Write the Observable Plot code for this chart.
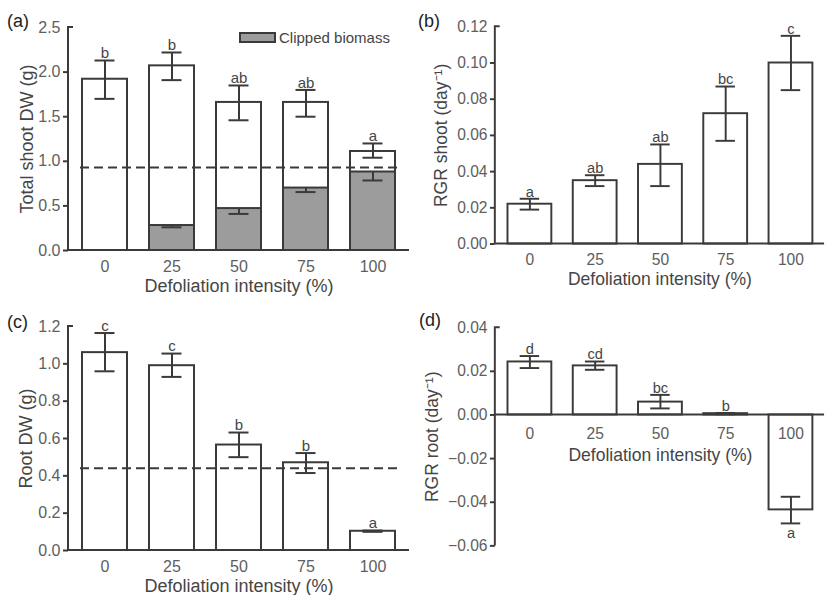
<!DOCTYPE html>
<html><head><meta charset="utf-8">
<script src="https://cdn.jsdelivr.net/npm/d3@7"></script>
<script src="https://cdn.jsdelivr.net/npm/@observablehq/plot@0.6"></script>
<style>
html,body{margin:0;padding:0;background:#fff}
body{width:827px;height:595px;overflow:hidden;position:relative;font-family:"Liberation Sans",Arial,Helvetica,sans-serif}
.panel{position:absolute}
.tag{position:absolute;font-size:18px;line-height:1;color:#222}
.legend{position:absolute;left:239px;top:29px;display:flex;align-items:center;font-size:15px;color:#444}
.legend .sw{width:33px;height:7px;border:2px solid #3a3a3a;background:#9c9c9c;margin-right:3px}
</style></head><body>
<div id="pa" class="panel" style="left:0;top:0"></div>
<div id="pb" class="panel" style="left:413px;top:0"></div>
<div id="pc" class="panel" style="left:0;top:297px"></div>
<div id="pd" class="panel" style="left:413px;top:297px"></div>
<div class="tag" style="left:7px;top:12px">(a)</div>
<div class="tag" style="left:418px;top:12px">(b)</div>
<div class="tag" style="left:7px;top:313px">(c)</div>
<div class="tag" style="left:419px;top:311px">(d)</div>
<div class="legend"><span class="sw"></span><span id="legtxt"></span></div>
<script>
// ---- data ----
const intensity = ["0", "25", "50", "75", "100"];
const xTitle = "Defoliation intensity (%)";

// (a) total shoot dry weight
const totalShoot   = [1.92, 2.07, 1.66, 1.66, 1.11];
const totalShootLo = [1.70, 1.91, 1.46, 1.50, 1.04];
const totalShootHi = [2.13, 2.22, 1.85, 1.80, 1.20];
const clipped      = [0, 0.28, 0.47, 0.70, 0.88];
const clippedLo    = [0, 0.26, 0.41, 0.655, 0.785];
const shootLetters = ["b", "b", "ab", "ab", "a"];
const shootRef = 0.93;
const shootTicks = [0, 0.5, 1.0, 1.5, 2.0, 2.5];

// (b) RGR shoot
const rgrShoot   = [0.022, 0.035, 0.044, 0.072, 0.100];
const rgrShootLo = [0.019, 0.032, 0.032, 0.057, 0.085];
const rgrShootHi = [0.025, 0.038, 0.055, 0.087, 0.115];
const rgrShootLetters = ["a", "ab", "ab", "bc", "c"];
const rgrShootTicks = [0, 0.02, 0.04, 0.06, 0.08, 0.10, 0.12];

// (c) root dry weight
const rootDW   = [1.06, 0.99, 0.565, 0.47, 0.103];
const rootDWLo = [0.96, 0.93, 0.50, 0.415, 0.100];
const rootDWHi = [1.165, 1.055, 0.632, 0.522, 0.107];
const rootLetters = ["c", "c", "b", "b", "a"];
const rootRef = 0.44;
const rootTicks = [0, 0.2, 0.4, 0.6, 0.8, 1.0, 1.2];

// (d) RGR root
const rgrRoot   = [0.0243, 0.0225, 0.0059, 0.0006, -0.0435];
const rgrRootLo = [0.0215, 0.0207, 0.0030, 0.0003, -0.0497];
const rgrRootHi = [0.0270, 0.0245, 0.0092, 0.0009, -0.0375];
const rgrRootLetters = ["d", "cd", "bc", "b", "a"];
const rgrRootTicks = [-0.06, -0.04, -0.02, 0, 0.02, 0.04];

// ---- drawing ----
const LINE = "#3a3a3a", TICKTXT = "#5e5e5e", TITLE = "#454545", GRAY = "#9c9c9c";
const FONT = "'Liberation Sans', Arial, Helvetica, sans-serif";
document.getElementById("legtxt").textContent = "Clipped biomass";

function rows(vals, lo, hi, letters) {
  return intensity.map((c, i) => ({c, v: vals[i], lo: lo[i], hi: hi[i], letter: letters ? letters[i] : ""}));
}

function axisLines() {
  return (index, scales, values, dims) => {
    const L = dims.marginLeft, R = dims.width - dims.marginRight;
    const T = dims.marginTop, B = dims.height - dims.marginBottom;
    const y0 = scales.y(0);
    const g = d3.create("svg:g").attr("fill", "none").attr("stroke", LINE).attr("stroke-width", 2);
    g.append("path").attr("d", `M${L + 5},${T}H${L}V${B}`);
    g.append("path").attr("d", `M${L},${y0}H${R}`);
    return g.node();
  };
}

function panel(id, o) {
  const d = rows(o.vals, o.lo, o.hi, o.letters);
  const cap = {inset: 12.5, stroke: LINE, strokeWidth: 2};
  const marks = [
    Plot.axisY({ticks: o.ticks.slice(0, -1), tickSize: 5, tickPadding: 3, tickFormat: o.fmt,
      fontSize: 16, stroke: LINE, strokeWidth: 2, fill: TICKTXT, label: null}),
    Plot.axisY({ticks: o.ticks.slice(-1), tickSize: 0, tickPadding: 8, tickFormat: o.fmt,
      fontSize: 16, fill: TICKTXT, label: null}),
    Plot.text([o.ylabel], {frameAnchor: "left", dx: o.ylabelDx, rotate: -90, textAnchor: "middle",
      lineAnchor: "middle", fontSize: 18, fill: TITLE}),
    Plot.barY(d, {x: "c", y1: () => 0, y2: "v", fill: "white", stroke: LINE, strokeWidth: 2})
  ];
  if (o.clip) {
    const cd = rows(o.clip, o.clipLo, o.clip).filter(r => r.v > 0);
    marks.push(Plot.barY(cd, {x: "c", y1: () => 0, y2: "v", fill: GRAY, stroke: LINE, strokeWidth: 2}));
    marks.push(Plot.ruleX(cd, {x: "c", y1: "lo", y2: "v", stroke: LINE, strokeWidth: 2}));
    marks.push(Plot.tickY(cd, {x: "c", y: "lo", ...cap}));
  }
  marks.push(
    Plot.ruleX(d, {x: "c", y1: "lo", y2: "hi", stroke: LINE, strokeWidth: 2}),
    Plot.tickY(d, {x: "c", y: "hi", ...cap}),
    Plot.tickY(d, {x: "c", y: "lo", ...cap}),
    Plot.text(d.filter(r => r.v >= 0), {x: "c", y: "hi", text: "letter", dy: -7, fontSize: 15, fill: TITLE}),
    Plot.text(d.filter(r => r.v < 0), {x: "c", y: "lo", text: "letter", dy: 10, fontSize: 15, fill: TITLE})
  );
  if (o.ref != null) {
    marks.push(Plot.ruleY([o.ref], {stroke: LINE, strokeWidth: 2, strokeDasharray: "9,5", insetLeft: 12, insetRight: 9}));
  }
  if (o.zeroAxis) {
    marks.push(
      Plot.text(intensity, {x: c => c, y: () => 0, dy: 20, fontSize: 16, fill: TICKTXT}),
      Plot.text([xTitle], {x: () => "50", y: () => 0, dy: 41, fontSize: 18, fill: TITLE})
    );
  } else {
    marks.push(
      Plot.text(intensity, {x: c => c, y: () => 0, dy: 16, fontSize: 16, fill: TICKTXT}),
      Plot.text([xTitle], {frameAnchor: "bottom", lineAnchor: "middle", dy: 36, fontSize: 18, fill: TITLE})
    );
  }
  marks.push(axisLines());
  const chart = Plot.plot({
    width: o.width, height: o.height,
    marginLeft: o.ml, marginRight: o.mr, marginTop: o.mt, marginBottom: o.mb,
    style: {fontFamily: FONT, fontSize: "16px", background: "transparent", overflow: "visible"},
    x: {domain: intensity, paddingInner: 0.33, paddingOuter: o.po, axis: null},
    y: {domain: o.domain, axis: null},
    marks
  });
  document.getElementById(id).appendChild(chart);
}

const f1 = d3.format(".1f"), f2 = d3.format(".2f");

panel("pa", {vals: totalShoot, lo: totalShootLo, hi: totalShootHi, letters: shootLetters,
  clip: clipped, clipLo: clippedLo, ref: shootRef, ticks: shootTicks, fmt: f1, domain: [0, 2.5],
  ylabel: "Total shoot DW (g)", ylabelDx: -41,
  width: 413, height: 297, ml: 68, mr: 4, mt: 27, mb: 47, po: 0.19});

panel("pb", {vals: rgrShoot, lo: rgrShootLo, hi: rgrShootHi, letters: rgrShootLetters,
  ticks: rgrShootTicks, fmt: f2, domain: [0, 0.12],
  ylabel: "RGR shoot (day\u207B\u00B9)", ylabelDx: -55,
  width: 425, height: 297, ml: 84, mr: 3, mt: 27, mb: 47, po: 0.174});

panel("pc", {vals: rootDW, lo: rootDWLo, hi: rootDWHi, letters: rootLetters,
  ref: rootRef, ticks: rootTicks, fmt: f1, domain: [0, 1.2],
  ylabel: "Root DW (g)", ylabelDx: -42,
  width: 413, height: 298, ml: 68, mr: 4, mt: 29, mb: 45, po: 0.19});

panel("pd", {vals: rgrRoot, lo: rgrRootLo, hi: rgrRootHi, letters: rgrRootLetters,
  ticks: rgrRootTicks, fmt: f2, domain: [-0.06, 0.04], zeroAxis: true,
  ylabel: "RGR root (day\u207B\u00B9)", ylabelDx: -65,
  width: 425, height: 298, ml: 84, mr: 3, mt: 31, mb: 43, po: 0.174});
</script>
</body></html>
